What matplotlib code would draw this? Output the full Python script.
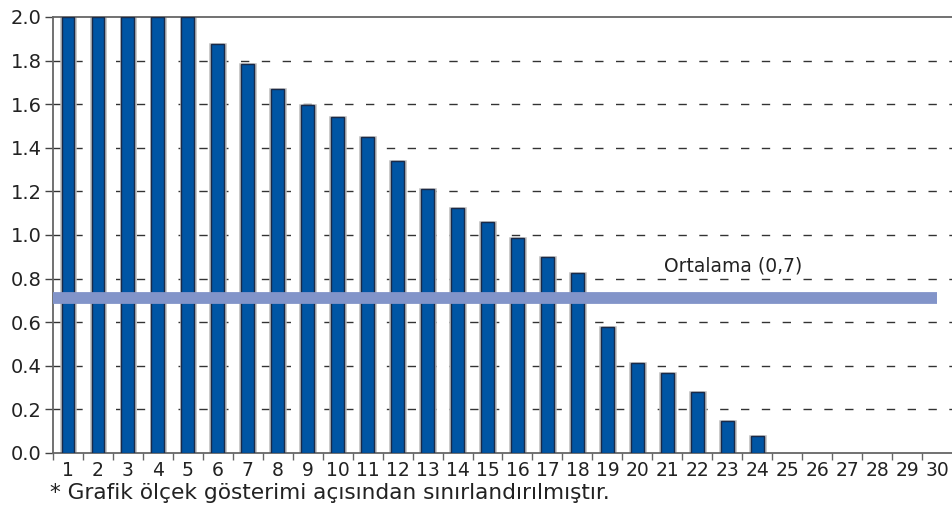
import matplotlib
matplotlib.use("Agg")
import matplotlib.pyplot as plt
from matplotlib.ticker import FixedLocator

plt.rcParams['font.family'] = ['DejaVu Sans']

categories = list(range(1, 31))
values = [2.0, 2.0, 2.0, 2.0, 2.0, 1.875, 1.784, 1.670, 1.595, 1.541,
          1.450, 1.339, 1.211, 1.125, 1.061, 0.988, 0.900, 0.827, 0.579, 0.414,
          0.368, 0.278, 0.147, 0.078, 0, 0, 0, 0, 0, 0]
mean_value = 0.71
mean_label = "Ortalama (0,7)"
yticks = [0.0, 0.2, 0.4, 0.6, 0.8, 1.0, 1.2, 1.4, 1.6, 1.8, 2.0]
footnote = "* Grafik ölçek gösterimi açısından sınırlandırılmıştır."

fig = plt.figure(figsize=(9.52, 5.09), dpi=100)
ax = fig.add_axes([53/952, 1-453/509, 899/952, (453-17)/509])

# gridlines (dashed) behind bars
for yv in yticks[1:-1]:
    ax.axhline(yv, color='#333333', linewidth=1.0, linestyle=(0, (6, 9)), zorder=1)

bar_x = [c for c, v in zip(categories, values) if v > 0]
bar_v = [v for v in values if v > 0]
ax.bar(bar_x, bar_v, width=0.49, color='none', edgecolor='#bbbbbb', linewidth=1.8, zorder=2)
ax.bar(bar_x, bar_v, width=0.43, color='#0055a4', edgecolor='#1a2a48', linewidth=1.0, zorder=3)

ax.plot([0.5, 30.0], [mean_value, mean_value], color='#8294c9', linewidth=8.5,
        solid_capstyle='butt', zorder=4)
ax.text(20.9, 0.858, mean_label, fontsize=13.5, color='#222222', ha='left', va='center')

ax.set_xlim(0.5, 30.5)
ax.set_ylim(0, 2.0)
ax.set_yticks(yticks)
ax.set_yticklabels([f"{t:.1f}" for t in yticks], fontsize=14, color='#222222')
ax.set_xticks(categories)
ax.set_xticklabels([str(c) for c in categories], fontsize=13.5, color='#222222')
ax.tick_params(axis='x', which='major', length=0, pad=6)
ax.xaxis.set_minor_locator(FixedLocator([c - 0.5 for c in categories]))
ax.tick_params(axis='x', which='minor', length=5, width=1, color='#666666', direction='out')
ax.tick_params(axis='y', which='major', length=6, width=1, color='#444444', direction='out', pad=2)

for s in ['left', 'bottom', 'top']:
    ax.spines[s].set_color('#666666')
    ax.spines[s].set_linewidth(1.3)
ax.spines['right'].set_visible(False)

fig.text(50/952, 1-493/509, footnote, fontsize=15.6, color='#222222', ha='left', va='center')

fig.savefig('out.png', dpi=100)
